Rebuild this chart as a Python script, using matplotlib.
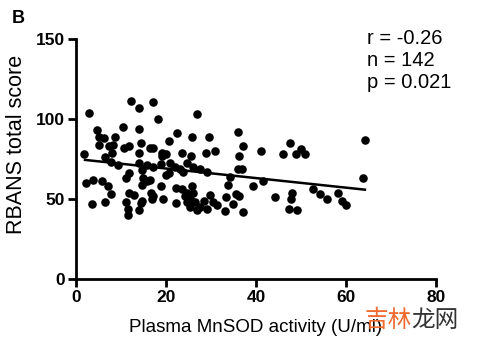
import numpy as np
import matplotlib
matplotlib.use("Agg")
import matplotlib.pyplot as plt

# -----------------------------
# Data
# -----------------------------
mnsod = [2.9, 1.8, 4.6, 5.1, 6.3, 8.6, 10.4, 12.2, 14.0, 14.0,
         5.1, 7.3, 8.2, 8.0, 10.7, 11.8, 14.4, 6.4, 7.8, 9.3,
         14.0, 14.0, 11.8, 11.1, 2.2, 3.8, 5.8, 7.1, 7.8, 3.6,
         6.4, 11.8, 12.9, 11.1, 11.6, 14.4, 14.0, 11.6, 17.1, 18.2,
         26.9, 22.4, 25.8, 20.7, 29.6, 16.4, 17.1, 19.1, 20.0, 23.5,
         25.6, 28.9, 15.8, 17.1, 18.9, 20.9, 22.0, 23.1, 24.7, 26.0,
         27.6, 23.8, 20.0, 20.7, 29.1, 14.7, 14.9, 15.8, 16.4, 14.7,
         18.9, 16.7, 22.2, 23.5, 25.8, 24.7, 26.0, 17.1, 19.3, 14.7,
         22.2, 24.7, 25.3, 26.4, 27.6, 28.4, 29.1, 36.0, 30.9, 37.1,
         36.2, 41.1, 36.0, 36.9, 34.2, 33.8, 39.3, 41.6, 29.8, 33.3,
         35.6, 34.9, 30.4, 31.3, 33.1, 37.1, 44.2, 47.6, 46.0, 48.9,
         50.0, 50.9, 48.0, 47.8, 47.3, 49.1, 52.7, 54.2, 55.8, 58.2,
         59.1, 60.0, 64.2, 63.8, 24.2, 25.3, 26.9, 36.2, 16.9, 19.1]
rbans = [104, 78, 93, 89, 88, 89, 95, 111, 107, 94,
         84, 83, 84, 79, 82, 83, 85, 76, 73, 71,
         79, 72.5, 66, 63, 60, 62, 61, 58, 53, 47,
         48, 54, 52.5, 48, 44, 47.5, 43, 40, 110.6, 100,
         103, 91, 89, 86, 89, 82, 82, 79, 78, 79,
         77, 79, 71, 70, 72, 72.5, 70, 69, 72.5, 70,
         69, 67, 65, 66, 67, 68, 63, 61, 62, 59,
         58, 54, 57, 56, 58, 54, 54, 52, 50, 49,
         47.5, 48, 45, 48, 45, 49, 44, 92, 80, 83,
         77, 80, 69, 69, 64, 59, 58, 61, 52.5, 51,
         53, 47, 48, 46, 42.5, 42, 51, 85, 78, 78,
         81, 78, 54, 50, 44, 43, 56, 53, 50, 54,
         49, 46, 87, 63, 52, 50, 43, 52, 50, 77]

# regression line end points
fit_x = [2.0, 64.2]
fit_y = [74.4, 55.8]

stats_text = ["r = -0.26", "n = 142", "p = 0.021"]

x_ticks = [0, 20, 40, 60, 80]
y_ticks = [0, 50, 100, 150]

# -----------------------------
# Figure
# -----------------------------
plt.rcParams['font.family'] = ['Liberation Sans', 'DejaVu Sans']

fig = plt.figure(figsize=(5.0, 3.54), dpi=100)
ax = fig.add_axes([0.152, 0.212, 0.72, 0.678])

ax.scatter(mnsod, rbans, s=38, color='black', zorder=3, linewidths=0)
ax.plot(fit_x, fit_y, color='black', lw=1.8, zorder=2)

ax.set_xlim(0, 80)
ax.set_ylim(0, 150)
ax.set_xticks(x_ticks)
ax.set_yticks(y_ticks)

for side in ['top', 'right']:
    ax.spines[side].set_visible(False)
for side in ['left', 'bottom']:
    ax.spines[side].set_linewidth(2)

ax.tick_params(width=2, length=6, labelsize=12.5, pad=2)
for lbl in ax.get_xticklabels() + ax.get_yticklabels():
    lbl.set_fontweight('bold')

ax.set_xlabel("Plasma MnSOD activity (U/ml)", fontsize=13.5, labelpad=10)
ax.set_ylabel("RBANS total score", fontsize=15.5)
ax.yaxis.set_label_coords(-0.135, 0.56)

# stats box
for i, line in enumerate(stats_text):
    fig.text(0.734, 0.89 - i * 0.062, line, fontsize=14.5, va='center', ha='left')

fig.text(0.024, 0.948, "B", fontsize=13, fontweight='bold', va='center')

# watermark
fig.text(0.728, 0.095, "吉林", fontsize=17, color='#ef6a2e',
         family=['Noto Sans CJK SC', 'DejaVu Sans'], va='center')
fig.text(0.822, 0.095, "龙网", fontsize=17, color='#333333',
         family=['Noto Sans CJK SC', 'DejaVu Sans'], va='center')

fig.savefig("out.png", dpi=100)
